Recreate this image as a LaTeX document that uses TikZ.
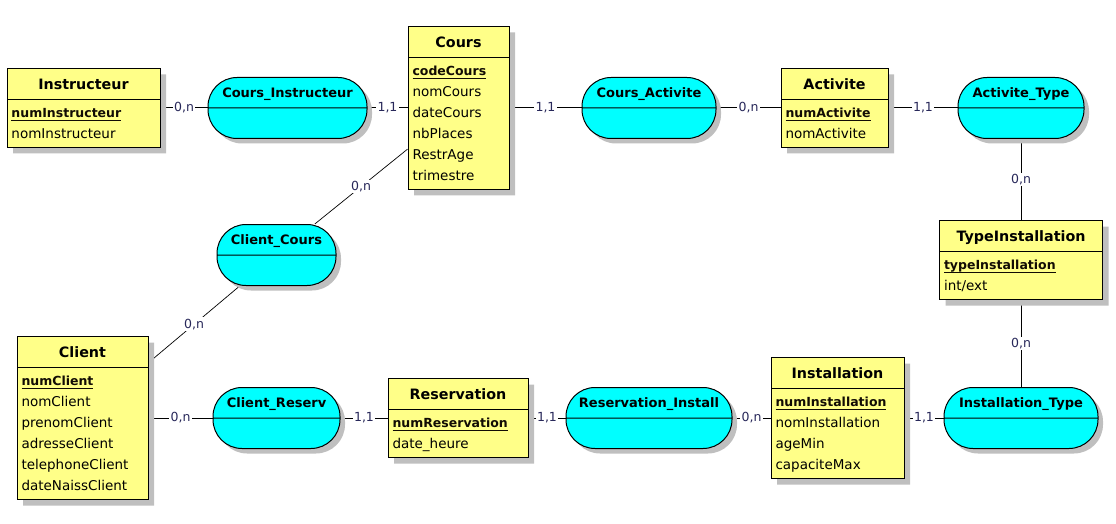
\documentclass[tikz,border=0pt]{standalone}
\usepackage{fontspec}
\setmainfont{DejaVu Sans}
\usepackage{xcolor}
\usepackage{tikz}
\usetikzlibrary{shapes.multipart,positioning,shadows,backgrounds}

\definecolor{entyellow}{RGB}{255,255,136}
\definecolor{assoccyan}{RGB}{0,255,255}
\definecolor{attrbrown}{RGB}{90,62,20}
\definecolor{cardblue}{RGB}{40,40,90}

% entity title, primary key, association name
\newcommand{\ename}[1]{{\fontsize{14.3}{25}\selectfont\bfseries\color{black}\rule[-7pt]{0pt}{25pt}#1}}
\newcommand{\ekey}[1]{\strut{\fontsize{12.5}{21}\selectfont\bfseries\color{black!80!attrbrown}\setbox0\hbox{#1}\rlap{\rule[-3.5pt]{\wd0}{1pt}}\box0}}
\newcommand{\aname}[1]{\rule[-10pt]{0pt}{29.5pt}#1}

\begin{document}
\begin{tikzpicture}[x=1pt, y=1pt,
    entity/.style={rectangle split, rectangle split parts=2, rectangle split part align={center,left},
        draw, line width=1pt, fill=entyellow, align=left, inner xsep=4.5pt, inner ysep=2.5pt,
        minimum width=#1, font=\fontsize{13.5}{21}\selectfont, text=attrbrown,
        drop shadow={shadow xshift=6pt, shadow yshift=-6pt, fill=black!25, opacity=1}},
    assoc/.style={rectangle split, rectangle split parts=2, draw, line width=1pt, fill=assoccyan,
        rounded corners=29pt, inner ysep=0pt, rectangle split empty part height=29.5pt,
        rectangle split empty part depth=0pt, minimum width=#1,
        font=\fontsize{13}{20}\selectfont\bfseries,
        drop shadow={shadow xshift=5pt, shadow yshift=-5pt, fill=black!25, opacity=1}},
    link/.style={draw, line width=1pt},
    diag/.style={draw, line width=0.7pt},
    card/.style={fill=white, inner sep=1.5pt, font=\fontsize{12.5}{15}\selectfont, text=cardblue}
]
    \useasboundingbox (0,0) rectangle (1116,523);

    % Top row
    \node[entity=153pt] (instructeur) at (83.5,415)
        {\ename{Instructeur}\nodepart{two}\ekey{numInstructeur}\\nomInstructeur\strut};
    \node[assoc=159pt, right=47pt of instructeur] (coursinstr) {\aname{Cours\_Instructeur}\nodepart{two}};
    \node[entity=101pt, right=40pt of coursinstr] (cours)
        {\ename{Cours}\nodepart{two}\ekey{codeCours}\\nomCours\\dateCours\\nbPlaces\\RestrAge\\trimestre\strut};
    \node[assoc=134pt, right=72pt of cours] (coursact) {\aname{Cours\_Activite}\nodepart{two}};
    \node[entity=107pt, right=64pt of coursact] (activite)
        {\ename{Activite}\nodepart{two}\ekey{numActivite}\\nomActivite\strut};
    \node[assoc=126pt, right=69pt of activite] (acttype) {\aname{Activite\_Type}\nodepart{two}};
    \node[entity=163pt, below=81pt of acttype] (typeinst)
        {\ename{TypeInstallation}\nodepart{two}\ekey{typeInstallation}\\int/ext\strut};

    % Bottom row
    \node[entity=131pt] (client) at (82.5,105)
        {\ename{Client}\nodepart{two}\ekey{numClient}\\nomClient\\prenomClient\\adresseClient\\telephoneClient\\dateNaissClient\strut};
    \node[assoc=127pt, right=64pt of client] (clientres) {\aname{Client\_Reserv}\nodepart{two}};
    \node[entity=140pt, right=47pt of clientres] (reservation)
        {\ename{Reservation}\nodepart{two}\ekey{numReservation}\\date\_heure\strut};
    \node[assoc=166pt, right=37pt of reservation] (resinst) {\aname{Reservation\_Install}\nodepart{two}};
    \node[entity=133pt, right=38pt of resinst] (installation)
        {\ename{Installation}\nodepart{two}\ekey{numInstallation}\\nomInstallation\\ageMin\\capaciteMax\strut};
    \node[assoc=154pt, right=39pt of installation] (insttype) {\aname{Installation\_Type}\nodepart{two}};
    \node[assoc=119pt, above=101pt of clientres] (clientcours) {\aname{Client\_Cours}\nodepart{two}};

    % Links with cardinalities
    \begin{scope}[on background layer]
        \draw[link] (instructeur) -- node[card] {0,n} (coursinstr);
        \draw[link] (coursinstr) -- node[card] {1,1} (cours);
        \draw[link] (cours) -- node[card] {1,1} (coursact);
        \draw[link] (coursact) -- node[card] {0,n} (activite);
        \draw[link] (activite) -- node[card] {1,1} (acttype);
        \draw[link] (acttype) -- node[card] {0,n} (typeinst);
        \draw[link] (typeinst) -- node[card] {0,n} (insttype);
        \draw[link] (client) -- node[card] {0,n} (clientres);
        \draw[link] (clientres) -- node[card] {1,1} (reservation);
        \draw[link] (reservation) -- node[card] {1,1} (resinst);
        \draw[link] (resinst) -- node[card] {0,n} (installation);
        \draw[link] (installation) -- node[card] {1,1} (insttype);
        \draw[diag] (cours) -- node[card] {0,n} (clientcours);
        \draw[diag] (clientcours) -- node[card] {0,n} (client);
    \end{scope}
\end{tikzpicture}
\end{document}
